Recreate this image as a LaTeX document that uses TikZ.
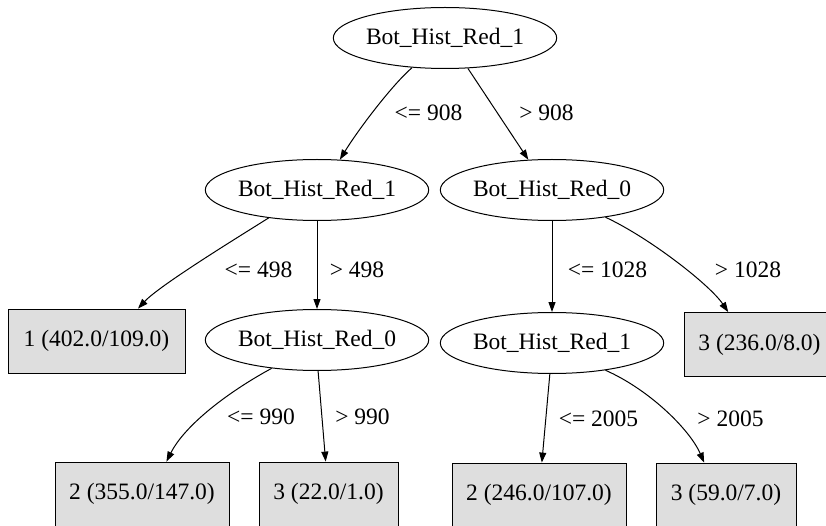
\documentclass[tikz,border=0pt]{standalone}
\usepackage{fontspec}
\setmainfont{Liberation Serif}
\usetikzlibrary{arrows.meta,shapes.geometric}
\begin{document}
\begin{tikzpicture}[x=1pt,y=-1pt,
  txt/.style={font=\fontsize{23.5}{28}\selectfont},
  test/.style={txt,draw,ellipse,line width=1pt,inner sep=0pt,minimum width=204pt,minimum height=61pt},
  leaf/.style={txt,draw,rectangle,line width=0.8pt,fill=black!13,inner sep=0pt,minimum height=64pt},
  lab/.style={txt,anchor=base,inner sep=0pt},
  edge/.style={line width=1pt,-{Triangle[length=10pt,width=7pt]}}]
\useasboundingbox (0,0) rectangle (826,526);
% decision nodes
\node[test] (r) at (445,38) {Bot\_Hist\_Red\_1};
\node[test] (a) at (317,190) {Bot\_Hist\_Red\_1};
\node[test] (b) at (552,190) {Bot\_Hist\_Red\_0};
\node[test] (c) at (317,340) {Bot\_Hist\_Red\_0};
\node[test] (d) at (552,343) {Bot\_Hist\_Red\_1};
% leaves
\node[leaf,minimum width=177pt] (l1) at (96.5,341) {1 (402.0/109.0)};
\node[leaf,minimum width=174pt] (l2) at (142,494) {2 (355.0/147.0)};
\node[leaf,minimum width=139pt] (l3) at (328.5,494) {3 (22.0/1.0)};
\node[leaf,minimum width=174pt] (l4) at (539,495) {2 (246.0/107.0)};
\node[leaf,minimum width=140pt] (l5) at (726,495) {3 (59.0/7.0)};
\node[leaf,minimum width=151pt] (l6) at (759.5,344.5) {3 (236.0/8.0)};
% edges
\draw[edge] (r.222) .. controls (392,85) and (358,130) .. (a.53);
\draw[edge] (r.307) -- (b.128);
\draw[edge] (a.210) .. controls (240,236) and (160,285) .. (l1.38);
\draw[edge] (a.south) -- (c.north);
\draw[edge] (b.south) -- (d.north);
\draw[edge] (b.333) .. controls (650,238) and (710,285) .. (l6.134);
\draw[edge] (c.212) .. controls (228,392) and (185,425) .. (l2.53);
\draw[edge] (c.272) -- (l3.95);
\draw[edge] (d.266) -- (l4.85);
\draw[edge] (d.333) .. controls (650,390) and (690,430) .. (l5.124);
% edge labels
\node[lab] (t1) at (428.5,121) {<= 908};
\node[lab] (t2) at (546.5,121) {> 908};
\node[lab] (t3) at (258.5,278) {<= 498};
\node[lab] (t4) at (357,278) {> 498};
\node[lab] (t5) at (607.5,278) {<= 1028};
\node[lab] (t6) at (748,278) {> 1028};
\node[lab] (t7) at (261,424) {<= 990};
\node[lab] (t8) at (362.5,424) {> 990};
\node[lab] (t9) at (598.5,426) {<= 2005};
\node[lab] (t10) at (730.5,426) {> 2005};
\end{tikzpicture}
\end{document}
